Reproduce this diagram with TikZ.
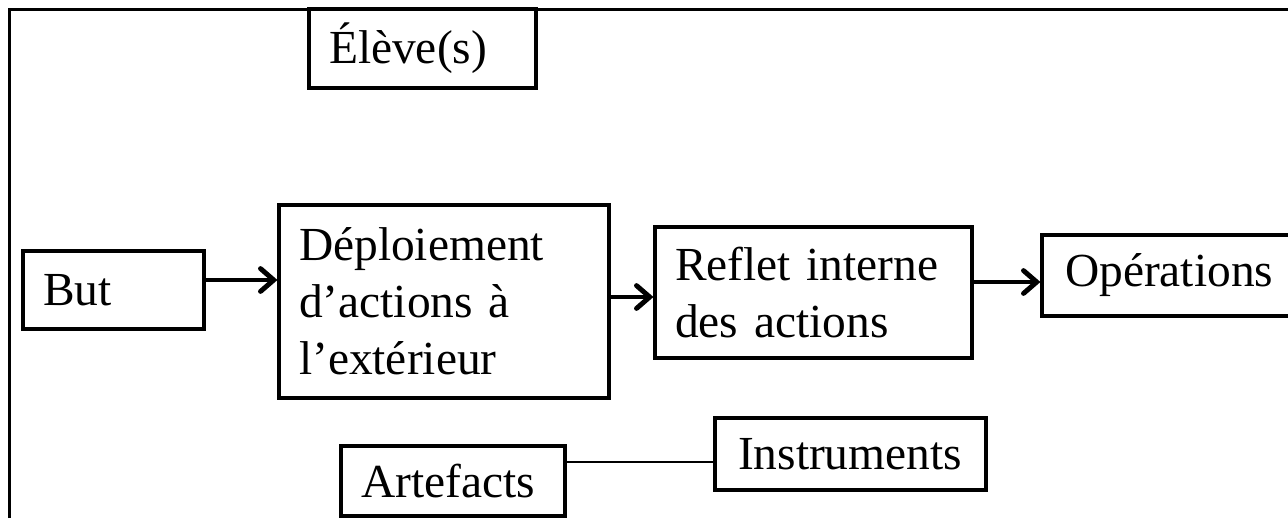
\documentclass[tikz,border=0pt]{standalone}
\usepackage{fontspec}
\setmainfont{Liberation Serif}
\usetikzlibrary{arrows.meta}
\begin{document}
\begin{tikzpicture}[x=0.02cm,y=-0.02cm,
  box/.style={draw, line width=1.8pt, inner xsep=0.4cm, inner ysep=0pt, align=left,
    font=\fontsize{27}{32.5}\selectfont},
  flow/.style={line width=2.8pt, -{Straight Barb[length=7.5pt,width=13pt,line cap=round]}},
  link/.style={line width=1.4pt},
  frame/.style={line width=2.2pt}]
\useasboundingbox (0,0) rectangle (1288,518);
\clip (0,0) rectangle (1288,518);
% outer frame (left and top sides only)
\draw[frame] (9.5,518) -- (9.5,9.5) -- (1300,9.5);
% boxes
\node[box, text width=3.74cm, minimum height=1.58cm] (eleve) at (422.5,48.5) {Élève(s)};
\node[box, text width=2.82cm, minimum height=1.56cm] (but) at (113.5,290) {But};
\node[box, text width=5.8cm, minimum height=3.86cm] (deploi) at (444,301.5)
  {Déploiement\\d’actions à\\l’extérieur};
\node[box, text width=5.54cm, minimum height=2.62cm] (reflet) at (813.5,292.5)
  {Reflet interne\\des actions};
\node[box, text width=4.4cm, minimum height=1.62cm, inner xsep=0.46cm] (ops) at (1175,275.5) {Opérations};
\node[box, text width=3.68cm, minimum height=1.4cm] (artef) at (453,481) {Artefacts};
\node[box, text width=4.5cm, minimum height=1.44cm, inner xsep=0.46cm] (instr) at (850.5,454) {Instruments};
% connectors
\draw[flow] (but.east |- 0,280) -- (deploi.west |- 0,280);
\draw[flow] (deploi.east |- 0,297) -- (reflet.west |- 0,297);
\draw[flow] (reflet.east |- 0,282) -- (ops.west |- 0,282);
\draw[link] (artef.east |- 0,462) -- (instr.west |- 0,462);
\end{tikzpicture}
\end{document}
